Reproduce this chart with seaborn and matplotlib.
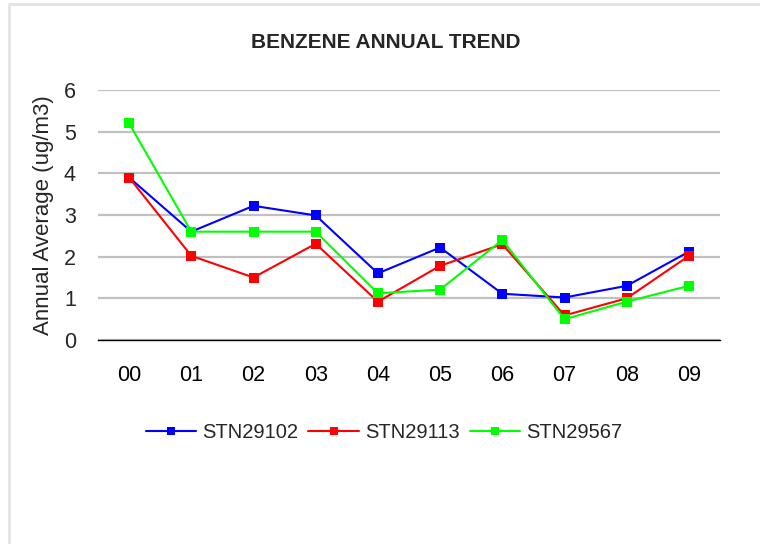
import numpy as np
import pandas as pd
import seaborn as sns
import matplotlib.pyplot as plt
from matplotlib.lines import Line2D

# values
years = ['00', '01', '02', '03', '04', '05', '06', '07', '08', '09']
stn29102 = [3.9, 2.6, 3.22, 2.99, 1.6, 2.22, 1.11, 1.02, 1.3, 2.12]
stn29113 = [3.9, 2.02, 1.5, 2.31, 0.92, 1.78, 2.3, 0.59, 1.0, 2.02]
stn29567 = [5.2, 2.6, 2.6, 2.6, 1.12, 1.21, 2.4, 0.5, 0.92, 1.3]
stations = ['STN29102', 'STN29113', 'STN29567']
colors = ['#0000FF', '#FF0000', '#00FF00']

# long format for seaborn
df = pd.DataFrame({
    'pos': list(range(len(years))) * 3,
    'value': stn29102 + stn29113 + stn29567,
    'station': [s for s in stations for _ in years],
})

sns.set_style('white')
plt.rcParams['font.family'] = ['Liberation Sans', 'DejaVu Sans']

fig = plt.figure(figsize=(7.6, 5.44), dpi=100)
ax = fig.add_axes([98 / 760, 1 - 340 / 544, 622 / 760, 250 / 544])

sns.lineplot(data=df, x='pos', y='value', hue='station', palette=colors,
             style='station', markers=['s', 's', 's'], dashes=False,
             markersize=6.5, markeredgewidth=0, linewidth=1.5, ax=ax)

ax.set_xlim(-0.5, len(years) - 0.5)
ax.set_ylim(0, 6)
ax.set_yticks(range(0, 7))
ax.yaxis.grid(True, color='#C0C0C0', linewidth=1.6)
ax.set_axisbelow(True)
for side in ['left', 'top', 'right']:
    ax.spines[side].set_visible(False)
ax.spines['bottom'].set_color('black')
ax.spines['bottom'].set_linewidth(1.0)

# tick marks at category boundaries, labels at centres
ax.set_xticks(np.arange(-0.5, len(years), 1.0))
ax.set_xticklabels([])
ax.set_xticks(range(len(years)), minor=True)
ax.set_xticklabels(years, minor=True)
ax.tick_params(axis='x', which='major', direction='in', length=6, width=1, colors='black')
ax.tick_params(axis='x', which='minor', direction='inout', length=8, width=1,
               labelsize=15.5, pad=14, colors='black')
ax.tick_params(axis='y', length=0, labelsize=15.5, pad=16)

ax.set_xlabel('')
ax.set_ylabel('Annual Average (ug/m3)', fontsize=16, labelpad=7)
fig.text(0.508, 1 - 42 / 544, 'BENZENE ANNUAL TREND', ha='center', va='center',
         fontsize=15, fontweight='bold')

leg = ax.legend(loc='center', bbox_to_anchor=(384 / 760, 1 - 433 / 544),
                bbox_transform=fig.transFigure, ncol=3, frameon=False,
                fontsize=14.5, handlelength=2.5, handletextpad=0.3, columnspacing=0.5)
for h in leg.legend_handles:
    h.set_markersize(6)

# light outer chart border (left and top only visible)
fig.add_artist(Line2D([9 / 760, 9 / 760, 1], [0, 1 - 4 / 544, 1 - 4 / 544],
                      transform=fig.transFigure, color='#E4E4E4', linewidth=2))

fig.savefig('out.png', dpi=100)
